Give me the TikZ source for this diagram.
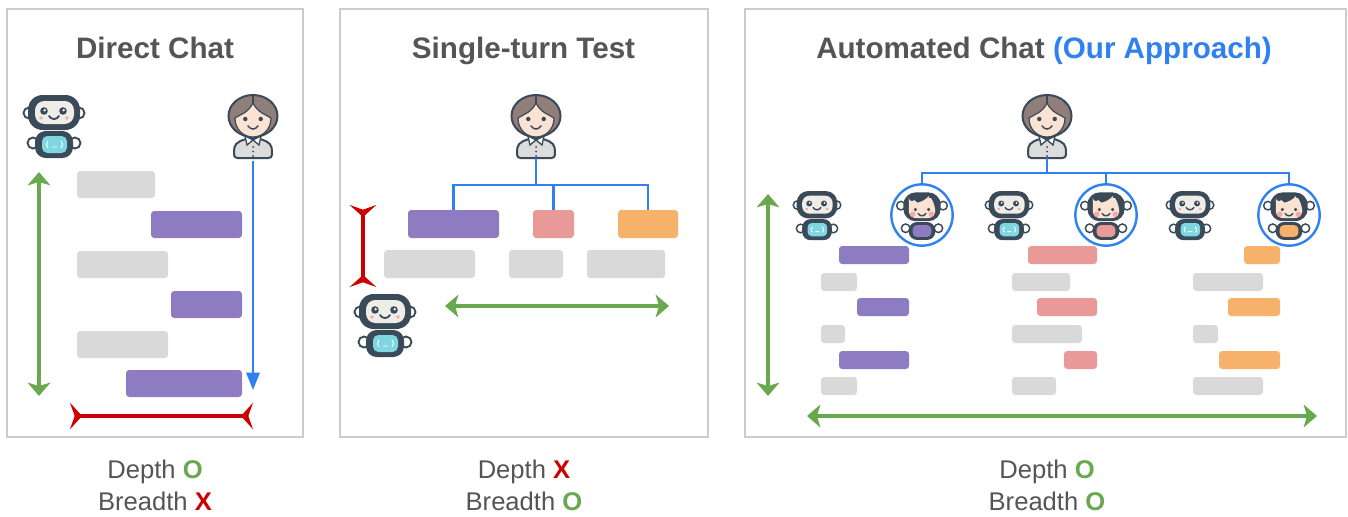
\documentclass[tikz,border=0pt]{standalone}
\usepackage{fontspec}
\setmainfont{Liberation Sans}
\usetikzlibrary{arrows.meta}
\definecolor{cgreen}{HTML}{6AA84F}
\definecolor{cred}{HTML}{CC0000}
\definecolor{cblue}{HTML}{2F80F2}
\definecolor{cpurple}{HTML}{8E7CC3}
\definecolor{cpink}{HTML}{EA9999}
\definecolor{corange}{HTML}{F6B26B}
\definecolor{cgray}{HTML}{D9D9D9}
\definecolor{cframe}{HTML}{CCCCCC}
\definecolor{ctext}{HTML}{555555}
\definecolor{cdark}{HTML}{3A4A58}
\definecolor{cplate}{HTML}{EFEDE8}
\definecolor{cscreen}{HTML}{7FD6E3}
\definecolor{cskin}{HTML}{FBE3D3}
\definecolor{chair}{HTML}{8F7E7A}
\definecolor{cshirt}{HTML}{DCDCDC}
\definecolor{ccheek}{HTML}{F6A9A5}
\newcommand{\blockbox}[6]{% name, x1,y1,x2,y2,colour
  \node[blockbar,fill=#6,minimum width={(#4-#2)*0.75pt},minimum height={(#5-#3)*0.75pt}] (#1) at ({(#2+#4)/2},{(#3+#5)/2}) {};}
\def\rs{1}
\tikzset{
  x=0.75pt,y=-0.75pt,
  blockbar/.style={inner sep=0pt,outer sep=0pt,rounded corners=2.4pt,draw=none},
  panel/.style={draw=cframe,line width=.9pt,inner sep=0pt,outer sep=0pt},
  ttl/.style={font=\fontsize{22.2}{24}\selectfont\bfseries,text=ctext,inner sep=0pt,anchor=base},
  lbl/.style={font=\fontsize{19.2}{22}\selectfont,text=ctext,inner sep=0pt,anchor=base},
  tree/.style={draw=cblue,line width=1.8pt},
  greenhead/.tip={Stealth[length=10pt,width=17pt,inset=2.5pt]},
  redhead/.tip={Stealth[reversed,length=9pt,width=20pt,inset=3.5pt]},
  garrow/.style={draw=cgreen,line width=2.6pt,{greenhead}-{greenhead}},
  rbar/.style={draw=cred,line width=2.6pt,{redhead}-{redhead}},
  iconslot/.style={inner sep=0pt,outer sep=0pt,minimum width=48pt,minimum height=47pt},
  ring/.style={circle,draw=cblue,line width=1.8pt,minimum size=46pt,inner sep=0pt,outer sep=0pt},
  pics/robot/.style={code={
    \begin{scope}[draw=cdark,line width=\robotlw]
    \foreach \s in {-1,1}{
      \filldraw[fill=white] (\s*25,-14) circle (5.5);
      \filldraw[fill=white] (\s*21,16) circle (5.5);}
    \fill[cdark,rounded corners={\rs*11pt}] (-26,-32) rectangle (26,3);
    \fill[cdark,rounded corners={\rs*8pt}] (-19,4) rectangle (19,31);
    \fill[cscreen,rounded corners={\rs*4pt}] (-12,9) rectangle (13,26);
    \end{scope}
    \fill[cplate,rounded corners={\rs*7pt}] (-19,-26) rectangle (20,-3);
    \fill[cdark] (-10,-16) circle (3.8) (9,-16) circle (3.8);
    \fill[white] (-9.3,-16.8) circle (1.3) (9.7,-16.8) circle (1.3);
    \fill[ccheek] (-13,-9) circle (1.8) (13,-9) circle (1.8);
    \draw[cdark,line width=\robotlw,line cap=round] (-5,-11) .. controls (-3,-7) and (3,-7) .. (5,-11);
    \draw[white,line width=.7pt] (-6,14) .. controls (-8,16) and (-8,19) .. (-6,21) (7,14) .. controls (9,16) and (9,19) .. (7,21) (-2,20) -- (3,20);
  }},
  pics/facebot/.style={code={
    \begin{scope}[draw=cdark,line width=\robotlw]
    \foreach \s in {-1,1}{
      \filldraw[fill=white] (\s*27,-12) circle (5.5);
      \filldraw[fill=white] (\s*21,17) circle (5.5);}
    \fill[cdark,rounded corners={\rs*12pt}] (-24,-29) rectangle (24,8);
    \fill[cdark,rounded corners={\rs*8pt}] (-17,9) rectangle (17,32);
    \fill[\botcol,rounded corners={\rs*4pt}] (-12,13) rectangle (12,28);
    \end{scope}
    \fill[cskin,rounded corners={\rs*7pt}] (-17,-14) -- (-17,4) -- (17,4) -- (17,-14) .. controls (12,-21) and (7,-22) .. (3,-17) .. controls (-4,-16) and (-11,-18) .. (-17,-14) -- cycle;
    \fill[cdark] (-8.5,-7) circle (2.2) (8.5,-7) circle (2.2);
    \fill[ccheek] (-12,-1) circle (3.6) (12,-1) circle (3.6);
    \draw[cdark,line width=\robotlw,line cap=round] (-5,-2) .. controls (-3,2) and (3,2) .. (5,-2);
  }},
  pics/person/.style={code={
    \filldraw[draw=cdark,fill=chair,line width=1.5pt] (0,-11) ellipse (24.5 and 21);
    \filldraw[draw=cdark,fill=cshirt,line width=1.5pt,rounded corners=2.5pt] (-19,31) -- (-19,24) .. controls (-18,15) and (-9,12) .. (0,11) .. controls (9,12) and (18,15) .. (19,24) -- (19,31) -- cycle;
    \filldraw[draw=cdark,fill=cskin,line width=.9pt] (0,-24) .. controls (-5,-14) and (-12,-13) .. (-18,-9) .. controls (-18,3) and (-9,10) .. (0,10) .. controls (9,10) and (18,3) .. (18,-9) .. controls (12,-13) and (5,-14) .. (0,-24) -- cycle;
    \draw[cdark,line width=1pt] (0,-32) -- (0,-24);
    \fill[cdark] (-7.7,-8) circle (2.2) (7.7,-8) circle (2.2);
    \draw[cdark,line width=1.1pt,line cap=round] (-5,-1) .. controls (-2,3) and (2,3) .. (5,-1);
    \filldraw[fill=white,draw=cdark,line width=1pt] (0,13) -- (-8,9) -- (-6,18) -- cycle;
    \filldraw[fill=white,draw=cdark,line width=1pt] (0,13) -- (8,9) -- (6,18) -- cycle;
    \fill[cdark] (0,20) circle (1) (0,24.5) circle (1) (0,29) circle (1);
  }},
}
\begin{document}
\begin{tikzpicture}
\useasboundingbox (0,0) rectangle (1348,517);
\fill[white] (0,0) rectangle (1348,517);
% panels
\node[panel,minimum width={296*0.75pt},minimum height={428*0.75pt}] (pa) at (155,223) {};
\node[panel,minimum width={368*0.75pt},minimum height={428*0.75pt}] (pb) at (524,223) {};
\node[panel,minimum width={601*0.75pt},minimum height={428*0.75pt}] (pc) at (1045.5,223) {};
% titles
\node[ttl] (t1) at (155,59) {Direct Chat};
\node[ttl] (t2) at (523.5,59) {Single-turn Test};
\node[ttl] (t3) at (1044,59) {Automated Chat \textcolor{cblue}{(Our Approach)}};
% captions
\node[lbl] (d1) at (155,478) {Depth \textcolor{cgreen}{\bfseries O}};
\node[lbl] (b1) at (155,510) {Breadth \textcolor{cred}{\bfseries X}};
\node[lbl] (d2) at (524,478) {Depth \textcolor{cred}{\bfseries X}};
\node[lbl] (b2) at (524,510) {Breadth \textcolor{cgreen}{\bfseries O}};
\node[lbl] (d3) at (1047,478) {Depth \textcolor{cgreen}{\bfseries O}};
\node[lbl] (b3) at (1047,510) {Breadth \textcolor{cgreen}{\bfseries O}};
% panel 1
\def\robotlw{1.4pt}
\pic at (54,127) {robot};
\node[iconslot] (bot1) at (54,127) {};
\pic at (253,127) {person};
\node[iconslot] (pers1) at (253,127) {};
\blockbox{a1}{77}{171}{155}{198}{cgray}
\blockbox{a2}{151}{211}{242}{238}{cpurple}
\blockbox{a3}{77}{251}{168}{278}{cgray}
\blockbox{a4}{171}{291}{242}{318}{cpurple}
\blockbox{a5}{77}{331}{168}{358}{cgray}
\blockbox{a6}{126}{370}{242}{397}{cpurple}
\coordinate (g1a) at (39,172); \coordinate (g1b) at (39,396);
\draw[garrow] (g1a) -- (g1b);
\coordinate (bl1a) at (253,161); \coordinate (bl1b) at (253,390);
\draw[draw=cblue,line width=1.5pt,-{Stealth[length=13pt,width=10pt,inset=0pt]}] (bl1a) -- (bl1b);
\coordinate (r1a) at (70,416); \coordinate (r1b) at (253,416);
\draw[rbar] (r1a) -- (r1b);
% panel 2
\pic at (536,127) {person};
\node[iconslot] (pers2) at (536,127) {};
\pic at (385,326) {robot};
\node[iconslot] (bot2) at (385,326) {};
\blockbox{b1a}{408}{210}{499}{238}{cpurple}
\blockbox{b1b}{533}{210}{574}{238}{cpink}
\blockbox{b1c}{618}{210}{678}{238}{corange}
\blockbox{b2a}{384}{250}{475}{278}{cgray}
\blockbox{b2b}{509}{250}{563}{278}{cgray}
\blockbox{b2c}{587}{250}{665}{278}{cgray}
\coordinate (j2) at (536,185);
\draw[tree] (pers2.south) -- (j2);
\draw[tree] (b1a.north) |- (j2);
\draw[tree] (b1b.north) |- (j2);
\draw[tree] (b1c.north) |- (j2);
\coordinate (r2a) at (363,205); \coordinate (r2b) at (363,287);
\draw[rbar] (r2a) -- (r2b);
\coordinate (g2a) at (445,306); \coordinate (g2b) at (669,306);
\draw[garrow] (g2a) -- (g2b);
% panel 3
\pic at (1047,127) {person};
\node[iconslot] (pers3) at (1047,127) {};
\def\robotlw{1.1pt}
\def\rs{.78}
\begin{scope}[shift={(817,216)},scale=.78] \pic[transform shape] {robot}; \end{scope}
\node[iconslot,scale=.78] (bot3) at (817,216) {};
\begin{scope}[shift={(1009,216)},scale=.78] \pic[transform shape] {robot}; \end{scope}
\node[iconslot,scale=.78] (bot4) at (1009,216) {};
\begin{scope}[shift={(1190,216)},scale=.78] \pic[transform shape] {robot}; \end{scope}
\node[iconslot,scale=.78] (bot5) at (1190,216) {};
\def\botcol{cpurple}
\begin{scope}[shift={(922,215)},scale=.78] \pic[transform shape] {facebot}; \end{scope}
\def\botcol{cpink}
\begin{scope}[shift={(1106,215)},scale=.78] \pic[transform shape] {facebot}; \end{scope}
\def\botcol{corange}
\begin{scope}[shift={(1289,215)},scale=.78] \pic[transform shape] {facebot}; \end{scope}
\node[ring] (c1) at (922,215) {};
\node[ring] (c2) at (1106,215) {};
\node[ring] (c3) at (1289,215) {};
\coordinate (j3) at (1047,173);
\draw[tree] (pers3.south) -- (j3);
\draw[tree] (c1.north) |- (j3);
\draw[tree] (c2.north) |- (j3);
\draw[tree] (c3.north) |- (j3);
\blockbox{c11}{839}{246}{909}{264}{cpurple}
\blockbox{c12}{821}{273}{857}{291}{cgray}
\blockbox{c13}{857}{298}{909}{316}{cpurple}
\blockbox{c14}{821}{325}{845}{343}{cgray}
\blockbox{c15}{839}{351}{909}{369}{cpurple}
\blockbox{c16}{821}{377}{857}{395}{cgray}
\blockbox{c21}{1028}{246}{1097}{264}{cpink}
\blockbox{c22}{1012}{273}{1070}{291}{cgray}
\blockbox{c23}{1037}{298}{1097}{316}{cpink}
\blockbox{c24}{1012}{325}{1082}{343}{cgray}
\blockbox{c25}{1064}{351}{1097}{369}{cpink}
\blockbox{c26}{1012}{377}{1056}{395}{cgray}
\blockbox{c31}{1244}{246}{1280}{264}{corange}
\blockbox{c32}{1193}{273}{1263}{291}{cgray}
\blockbox{c33}{1228}{298}{1280}{316}{corange}
\blockbox{c34}{1193}{325}{1218}{343}{cgray}
\blockbox{c35}{1219}{351}{1280}{369}{corange}
\blockbox{c36}{1193}{377}{1263}{395}{cgray}
\coordinate (g3a) at (768,194); \coordinate (g3b) at (768,396);
\draw[garrow] (g3a) -- (g3b);
\coordinate (g4a) at (807,416); \coordinate (g4b) at (1317,416);
\draw[garrow] (g4a) -- (g4b);
\end{tikzpicture}
\end{document}
